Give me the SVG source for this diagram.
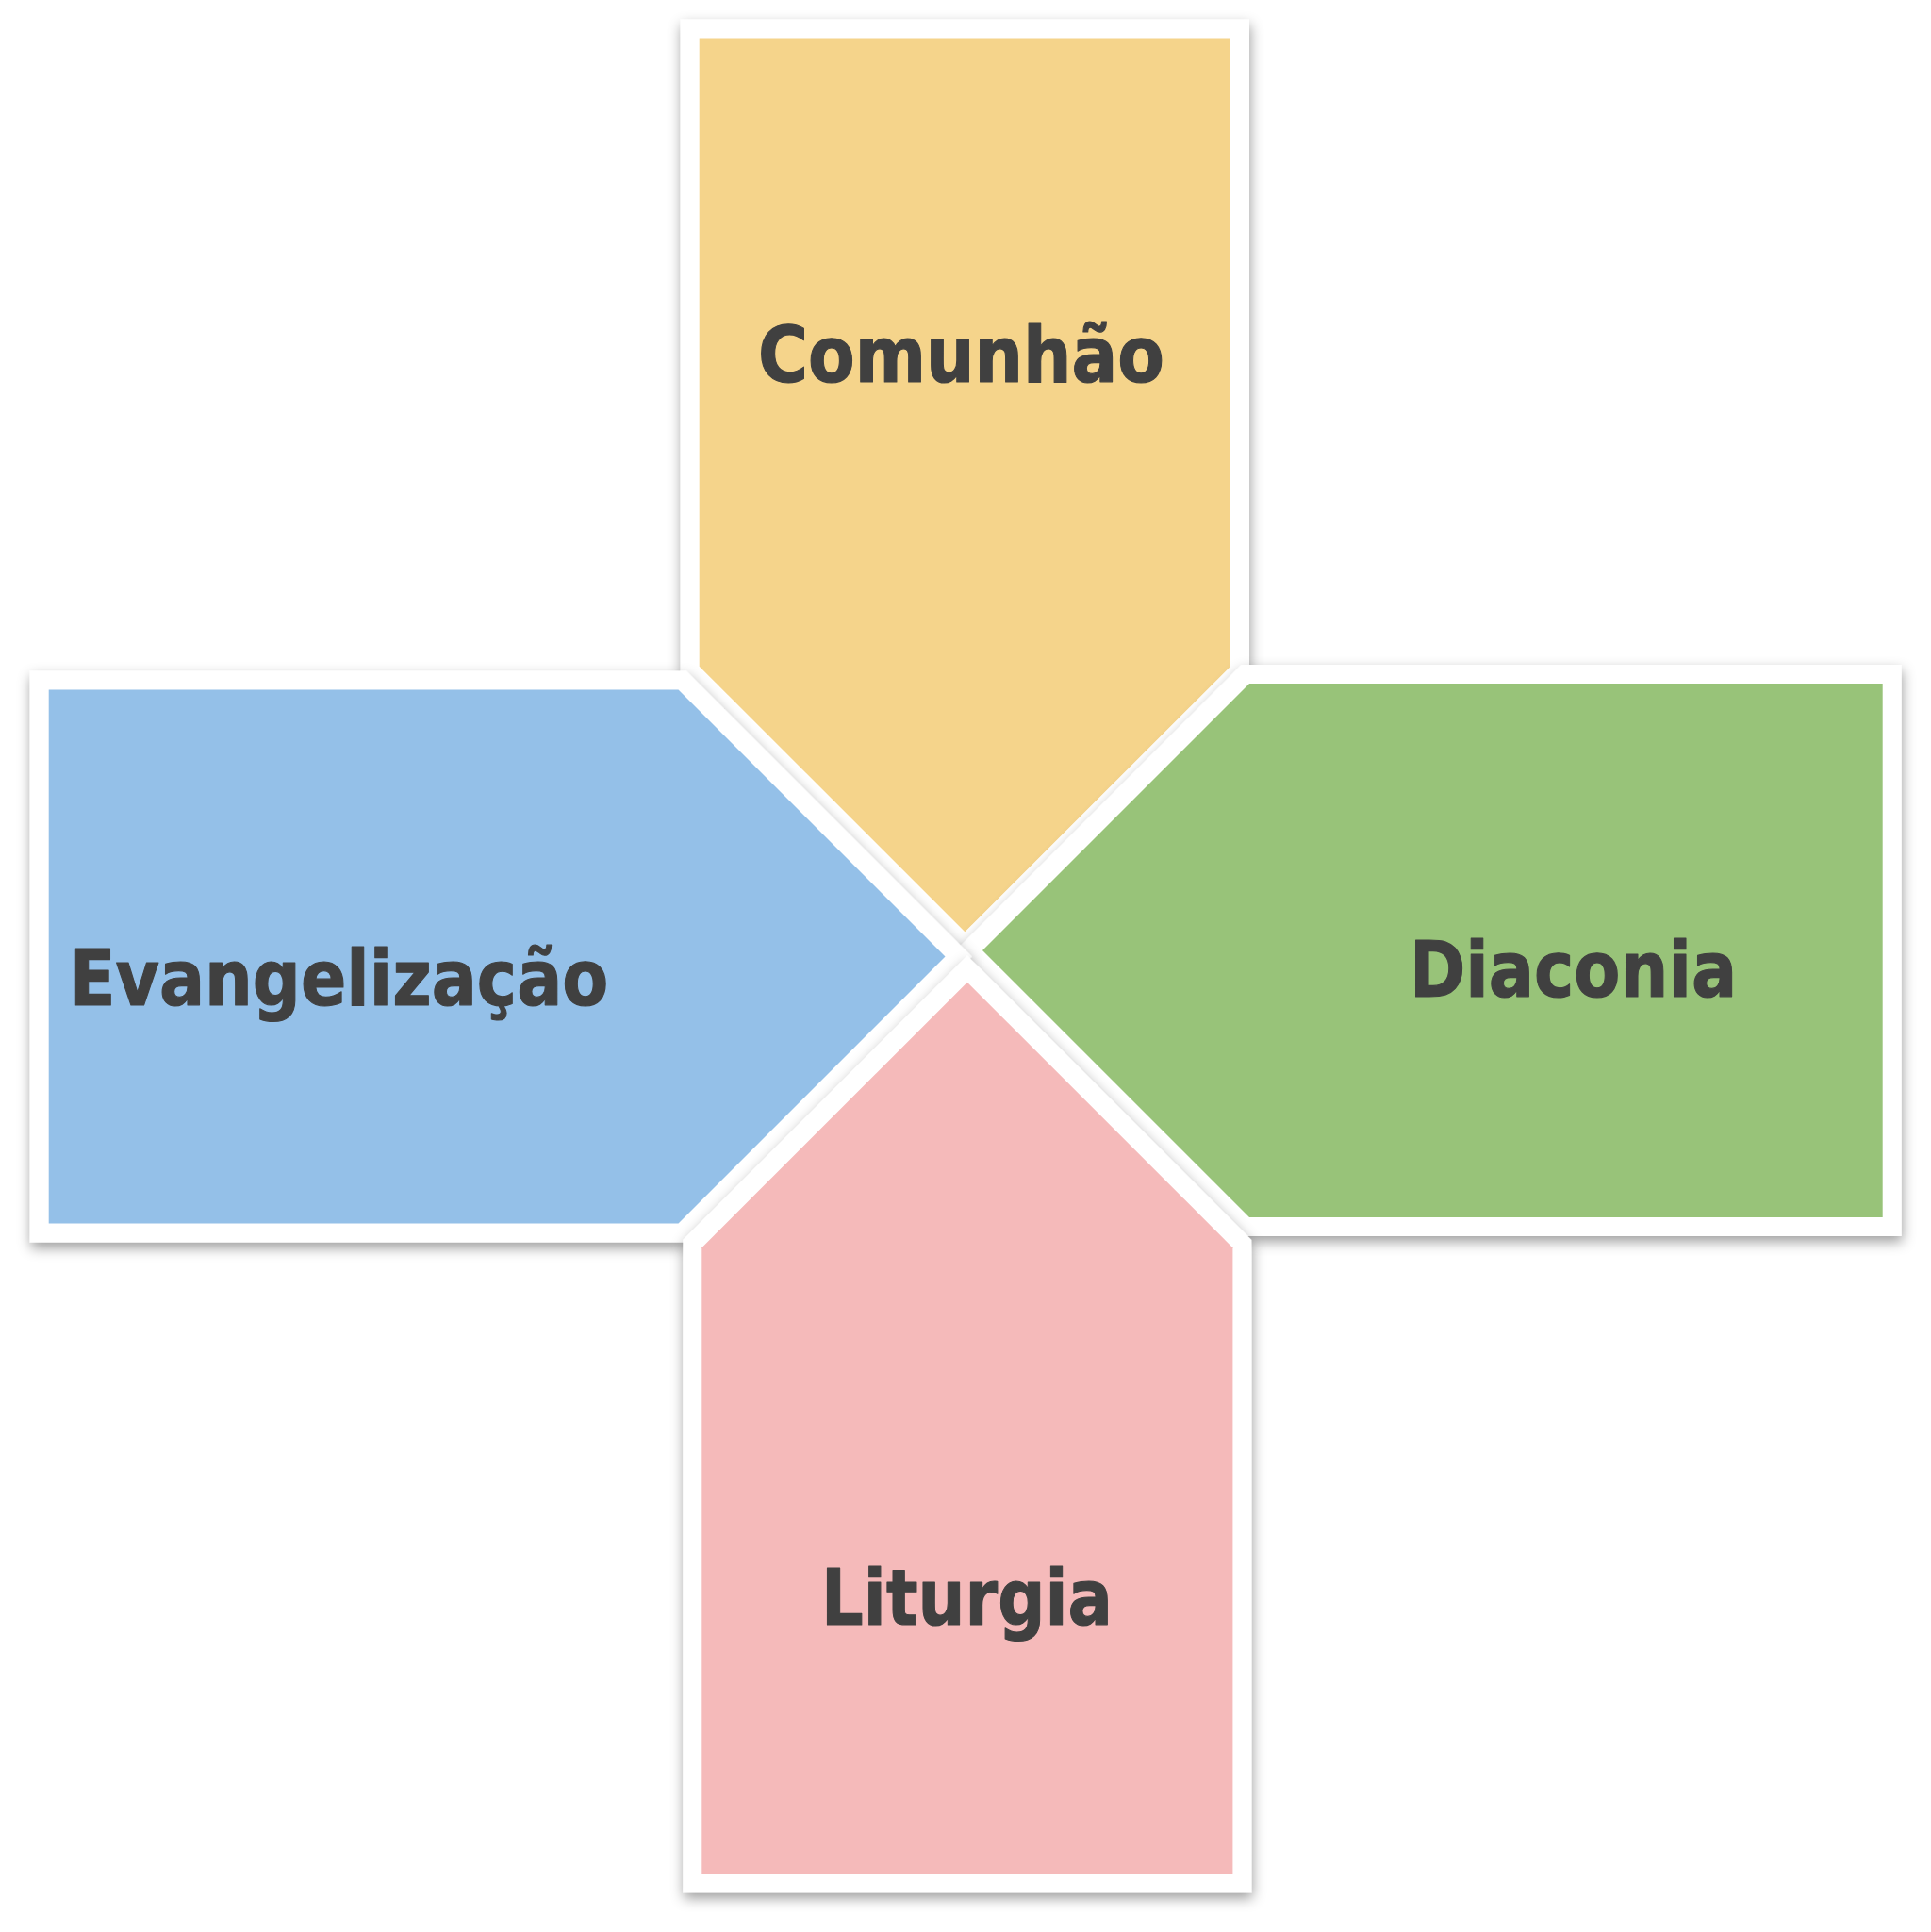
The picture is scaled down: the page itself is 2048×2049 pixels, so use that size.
<svg xmlns="http://www.w3.org/2000/svg" width="2048" height="2049" viewBox="0 0 2048 2049">
  <style>
    .shape { stroke: #ffffff; stroke-width: 40; stroke-linejoin: miter; paint-order: stroke; }
    .label { font-family: "DejaVu Sans", "Liberation Sans", sans-serif; font-weight: bold; font-size: 82px; fill: #404040; stroke: #404040; stroke-width: 1.2; stroke-linejoin: round; text-anchor: middle; }
  </style>
  <defs>
    <filter id="shadow" x="-10%" y="-10%" width="120%" height="120%">
      <feDropShadow dx="1" dy="6" stdDeviation="7" flood-color="#000000" flood-opacity="0.38"/>
    </filter>
  </defs>
  <rect x="0" y="0" width="2048" height="2049" fill="#ffffff"/>

  <g id="comunhao">
    <path class="shape" filter="url(#shadow)" fill="#F5D48B" d="M741.7,40.5 H1305 V706.7 L1023.35,988.35 L741.7,706.7 Z"/>
    <text class="label" transform="translate(1019.5,405) scale(0.882,1)" x="0" y="0">Comunhão</text>
  </g>

  <g id="diaconia">
    <path class="shape" filter="url(#shadow)" fill="#98C379" d="M1325,725 H1996.7 V1291 H1325 L1042,1008 Z"/>
    <text class="label" transform="translate(1668.5,1057) scale(0.872,1)" x="0" y="0">Diaconia</text>
  </g>

  <g id="evangelizacao">
    <path class="shape" filter="url(#shadow)" fill="#94C0E8" d="M51.7,731.5 H719.5 L1002.5,1014.5 L719.5,1297.5 H51.7 Z"/>
    <text class="label" transform="translate(359.5,1066) scale(0.87,1)" x="0" y="0">Evangelização</text>
  </g>

  <g id="liturgia">
    <path class="shape" filter="url(#shadow)" fill="#F5BABA" d="M1025.9,1041.7 L1307.4,1323.2 V1987.3 H744.3 V1323.2 Z"/>
    <text class="label" transform="translate(1025.5,1723) scale(0.857,1)" x="0" y="0">Liturgia</text>
  </g>

  <g id="connectors"></g>
</svg>
